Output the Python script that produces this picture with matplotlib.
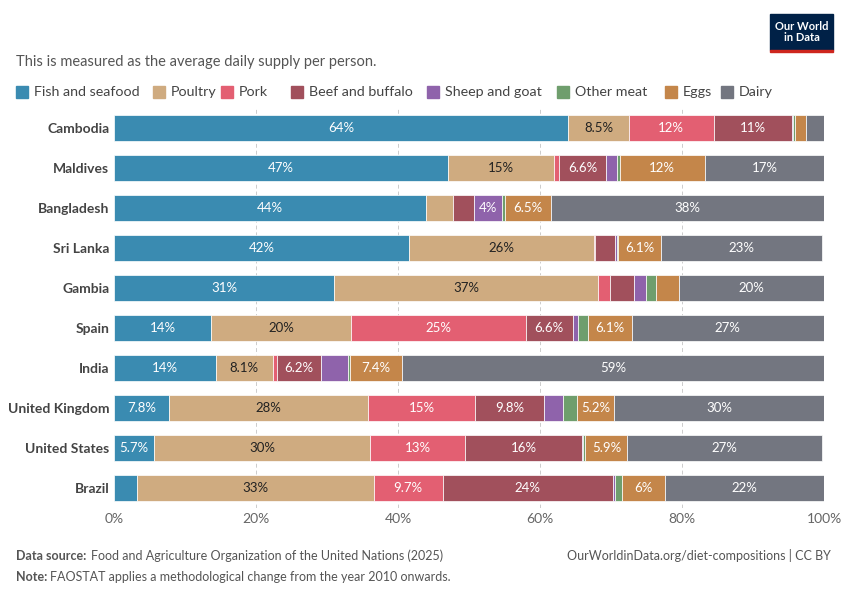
import matplotlib.pyplot as plt
import numpy as np

countries = ["Cambodia","Maldives","Bangladesh","Sri Lanka","Gambia","Spain","India","United Kingdom","United States","Brazil"]
series = ["Fish and seafood","Poultry","Pork","Beef and buffalo","Sheep and goat","Other meat","Eggs","Dairy"]
fish    = [64, 47, 44, 41.6, 31, 13.7, 14.3, 7.8, 5.7, 3.3]
poultry = [8.5, 15, 3.8, 26, 37.2, 19.7, 8.1, 28, 30.4, 33.3]
pork    = [12, 0.7, 0.0, 0.1, 1.6, 24.6, 0.6, 15, 13.4, 9.7]
beef    = [11, 6.6, 2.9, 2.9, 3.4, 6.6, 6.2, 9.8, 16.4, 24]
sheep   = [0.1, 1.6, 4.0, 0.3, 1.7, 0.7, 3.8, 2.6, 0.2, 0.3]
other   = [0.3, 0.3, 0.3, 0.1, 1.4, 1.5, 0.2, 2.0, 0.3, 1.0]
eggs    = [1.5, 12, 6.5, 6.1, 3.3, 6.1, 7.4, 5.2, 5.9, 6.0]
dairy   = [2.6, 16.8, 38.5, 22.6, 20.4, 27.1, 59.4, 29.6, 27.4, 22.4]
data = [fish, poultry, pork, beef, sheep, other, eggs, dairy]
colors = ["#3a8bb1","#cfab80","#e35f72","#a1505c","#8f63ab","#6f9e6d","#c4864a","#737680"]
textcol = ["white","#222","white","white","white","white","white","white"]
legend_x = [16, 153, 221, 291, 427, 557, 665, 721]

fig = plt.figure(figsize=(8.5,6), dpi=100)
ax = fig.add_axes([114/850, 1-508/600, 710/850, (508-108)/600])
y = np.arange(len(countries))
left = np.zeros(len(countries))
for s, vals in enumerate(data):
    v = np.array(vals, float)
    ax.barh(y, v, left=left, height=0.65, color=colors[s], edgecolor="white", linewidth=0.5)
    for i, val in enumerate(v):
        if val >= 3.9:
            lab = f"{val:.0f}%" if val >= 10 or val == int(val) else f"{val:.1f}%"
            ax.text(left[i]+val/2, i, lab, ha="center", va="center", color=textcol[s], fontsize=9.5, family="Lato")
    left += v
ax.set_xlim(0, 100)
ax.set_ylim(len(countries)-0.5, -0.5)
ax.set_yticks(y)
ax.set_yticklabels(countries, fontsize=10, fontweight="bold", color="#444", family="Lato")
ax.set_xticks(range(0,101,20))
ax.set_xticklabels([f"{t}%" for t in range(0,101,20)], fontsize=10, color="#666", family="Lato")
for t in range(20,101,20):
    ax.axvline(t, color="#ccc", lw=0.7, ls=(0,(4,3)), zorder=0)
for sp in ax.spines.values():
    sp.set_visible(False)
ax.tick_params(length=0)
ax.set_axisbelow(True)

fig.text(16/850, 1-62/600, "This is measured as the average daily supply per person.", fontsize=10.5, color="#555", family="Lato", va="center")
for s, name in enumerate(series):
    x = legend_x[s]
    fig.patches.append(plt.Rectangle((x/850, 1-98/600), 12/850, 12/600, transform=fig.transFigure, color=colors[s]))
    fig.text((x+18)/850, 1-92/600, name, fontsize=10.3, color="#444", family="Lato", va="center")
fig.patches.append(plt.Rectangle((770/850, 1-50/600), 63/850, 36/600, transform=fig.transFigure, color="#002147"))
fig.patches.append(plt.Rectangle((770/850, 1-52/600), 63/850, 2.5/600, transform=fig.transFigure, color="#ce261e"))
fig.text(801.5/850, 1-32/600, "Our World\nin Data", ha="center", va="center", color="white", fontsize=8, fontweight="bold", family="Lato", linespacing=1.1)
fig.text(16/850, 1-556/600, "Data source: ", fontsize=9, color="#555", fontweight="bold", family="Lato", va="center")
fig.text(91/850, 1-556/600, "Food and Agriculture Organization of the United Nations (2025)", fontsize=9, color="#555", family="Lato", va="center")
fig.text(16/850, 1-577/600, "Note: ", fontsize=9, color="#555", fontweight="bold", family="Lato", va="center")
fig.text(50/850, 1-577/600, "FAOSTAT applies a methodological change from the year 2010 onwards.", fontsize=9, color="#555", family="Lato", va="center")
fig.text(831/850, 1-556/600, "OurWorldinData.org/diet-compositions | CC BY", fontsize=9, color="#555", family="Lato", va="center", ha="right")
fig.savefig("out.png", dpi=100)
